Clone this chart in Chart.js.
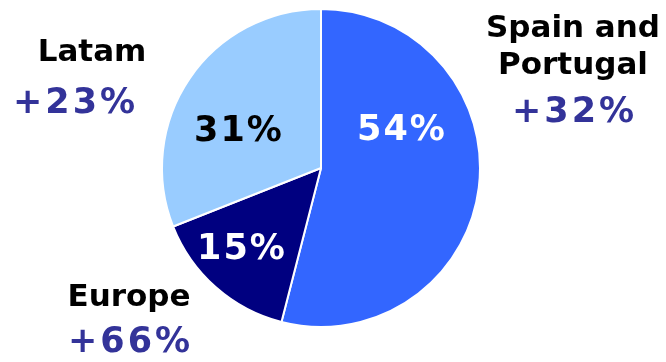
<!DOCTYPE html>
<html>
<head>
<meta charset="utf-8">
<script src="https://cdn.jsdelivr.net/npm/chart.js@4.4.0/dist/chart.umd.min.js"></script>
<style>
  html, body { margin: 0; padding: 0; background: #fff; }
  #wrap { width: 666px; height: 362px; }
</style>
</head>
<body>
<div id="wrap"><canvas id="salesPie" width="666" height="362"></canvas></div>
<script>
const regions = ['Spain and Portugal', 'Europe', 'Latam'];
const shares = [54, 15, 31];
const growth = [32, 66, 23];

const sliceColors = ['#3366ff', '#000080', '#99ccff'];
const shareColors = ['#ffffff', '#ffffff', '#000000'];

// where the share and growth labels sit for each slice
const labelSpots = [
    { share: [401, 131], name: [[573, 29, 'Spain and'], [573, 66, 'Portugal']], growth: [573, 113] },
    { share: [241, 250], name: [[129, 298, 'Europe']], growth: [129, 343] },
    { share: [238, 132], name: [[92, 53, 'Latam']], growth: [74, 104] }
];

const NAME_FONT = "bold 31px 'DejaVu Sans', Verdana, sans-serif";
const PCT_FONT = "bold 35px 'DejaVu Sans', Verdana, sans-serif";

function spacedText(ctx, text, x, y, spacing) {
    ctx.letterSpacing = spacing + 'px';
    // letterSpacing adds trailing space too, shift back to keep it centred
    ctx.fillText(text, x + spacing / 2, y);
    ctx.letterSpacing = '0px';
}

const pieLabels = {
    id: 'pieLabels',
    afterDraw(chart) {
        const ctx = chart.ctx;
        ctx.save();
        ctx.textAlign = 'center';
        ctx.textBaseline = 'middle';
        shares.forEach((v, i) => {
            const spot = labelSpots[i];
            ctx.font = PCT_FONT;
            ctx.fillStyle = shareColors[i];
            spacedText(ctx, v + '%', spot.share[0], spot.share[1], 2);
            ctx.fillStyle = '#333399';
            spacedText(ctx, '+' + growth[i] + '%', spot.growth[0], spot.growth[1], 3);
            ctx.font = NAME_FONT;
            ctx.fillStyle = '#000000';
            spot.name.forEach(([x, y, t]) => ctx.fillText(t, x, y));
        });
        ctx.restore();
    }
};

new Chart(document.getElementById('salesPie'), {
    type: 'pie',
    data: {
        labels: regions,
        datasets: [{
            data: shares,
            backgroundColor: sliceColors,
            borderColor: '#ffffff',
            borderWidth: 2
        }]
    },
    options: {
        responsive: false,
        animation: false,
        layout: { padding: { left: 161, right: 185, top: 8, bottom: 34 } },
        plugins: {
            legend: { display: false },
            tooltip: { enabled: false }
        }
    },
    plugins: [pieLabels]
});
</script>
</body>
</html>
